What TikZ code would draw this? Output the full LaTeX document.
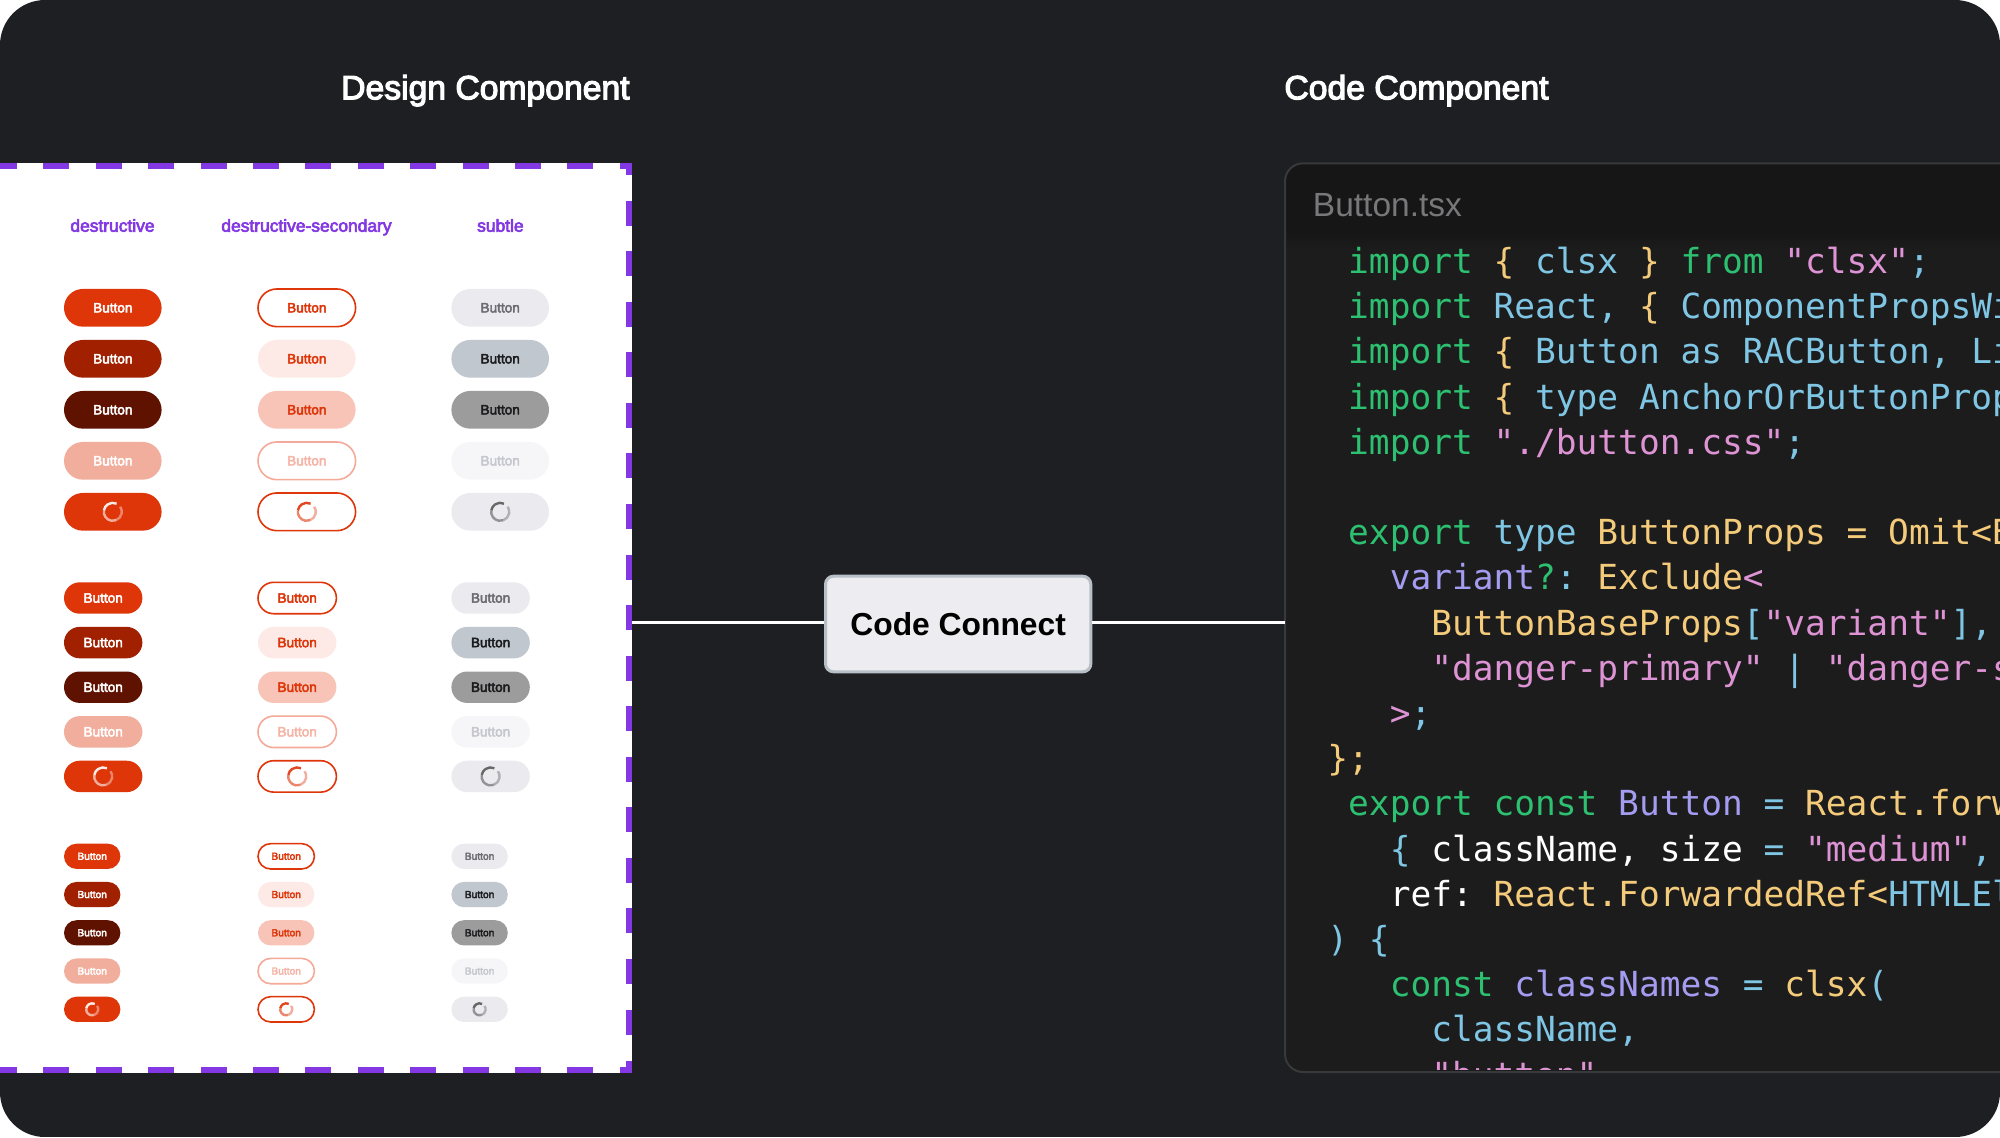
\documentclass[tikz,border=0pt]{standalone}
\usepackage{fontspec}
\setmainfont{Liberation Sans}
\newfontfamily\uifont[FakeBold=3.5]{Liberation Sans}
\newfontfamily\uiboldfont{Liberation Sans Bold}
\newfontfamily\codefont{DejaVu Sans Mono}
\definecolor{bgdark}{HTML}{1E1F23}
\definecolor{dashpurple}{HTML}{8338E3}
\definecolor{codebg}{HTML}{1C1C1D}
\definecolor{codehead}{HTML}{161616}
\definecolor{codeedge}{HTML}{38393B}
\definecolor{fnamegrey}{HTML}{78787A}
\definecolor{ccfill}{HTML}{ECECF1}
\definecolor{ccedge}{HTML}{B9BFC6}
\definecolor{reda}{HTML}{DE3509}
\definecolor{redb}{HTML}{A02000}
\definecolor{redc}{HTML}{5F1200}
\definecolor{redd}{HTML}{F2AE9D}
\definecolor{pinkb}{HTML}{FDEAE6}
\definecolor{pinkc}{HTML}{F7C4B7}
\definecolor{pinkd}{HTML}{F4A999}
\definecolor{pinkt}{HTML}{F5B5A6}
\definecolor{grya}{HTML}{EBEBEF}
\definecolor{gryb}{HTML}{C0C7CF}
\definecolor{gryc}{HTML}{9C9C9C}
\definecolor{gryd}{HTML}{F6F6F8}
\definecolor{grytxa}{HTML}{6C6C72}
\definecolor{grytxb}{HTML}{1C1C1E}
\definecolor{grytxd}{HTML}{C6C6CE}
\definecolor{tokgreen}{HTML}{2CC070}
\definecolor{tokyellow}{HTML}{F4CB7A}
\definecolor{tokblue}{HTML}{7FC6E4}
\definecolor{tokpink}{HTML}{DE94D4}
\definecolor{tokviolet}{HTML}{A49CF0}
\newcommand\kG[1]{\textcolor{tokgreen}{#1}}
\newcommand\kY[1]{\textcolor{tokyellow}{#1}}
\newcommand\kB[1]{\textcolor{tokblue}{#1}}
\newcommand\kP[1]{\textcolor{tokpink}{#1}}
\newcommand\kV[1]{\textcolor{tokviolet}{#1}}
\newcommand\kW[1]{\textcolor{white}{#1}}
\newcommand\fsz[1]{\fontsize{#1pt}{#1pt}\selectfont}
% spinner: centre, radius, colour
\newcommand\spinner[3]{%
  \draw[spinline,#3,opacity=.9] (#1) ++(65:#2) arc[start angle=65,end angle=170,radius=#2];
  \draw[spinline,#3,opacity=.6] (#1) ++(170:#2) arc[start angle=170,end angle=290,radius=#2];
  \draw[spinline,#3,opacity=.4] (#1) ++(290:#2) arc[start angle=290,end angle=395,radius=#2];
}
\tikzset{
  spinline/.style={line width=1.2pt},
  btnbase/.style={rectangle,inner sep=0pt,line width=.8pt},
  btnL/.style={btnbase,font=\uifont\fsz{6.8}},
  btnM/.style={btnbase,font=\uifont\fsz{6.8}},
  btnS/.style={btnbase,font=\uifont\fsz{5.1}},
  btnd1/.style={fill=reda,text=white},
  btnd2/.style={fill=redb,text=white},
  btnd3/.style={fill=redc,text=white},
  btnd4/.style={fill=redd,text=white},
  btnd5/.style={fill=reda},
  btne1/.style={fill=white,draw=reda,text=reda},
  btne2/.style={fill=pinkb,text=reda},
  btne3/.style={fill=pinkc,text=reda},
  btne4/.style={fill=white,draw=pinkd,text=pinkt},
  btne5/.style={fill=white,draw=reda},
  btnu1/.style={fill=grya,text=grytxa},
  btnu2/.style={fill=gryb,text=grytxb},
  btnu3/.style={fill=gryc,text=grytxb},
  btnu4/.style={fill=gryd,text=grytxd},
  btnu5/.style={fill=grya},
  spind/.style={white},
  spine/.style={reda},
  spinu/.style={black!65},
  heading/.style={anchor=base west,inner sep=0pt,text=white,font=\uifont\fsz{16.85}},
  coltitle/.style={anchor=base,inner sep=0pt,text=dashpurple,font=\uifont\fsz{8.7}},
  dashbar/.style={fill=dashpurple},
  codeline/.style={anchor=base west,inner sep=0pt,font=\codefont\fsz{17.25}\frenchspacing,text=white},
  conn/.style={white,line width=1.5pt},
}
\newcommand\cl[3]{\node[codeline] (line#1) at ({1347.8+20.77*(#2)},{273.4+45.2*(#1)}) {#3};}
\begin{document}
\begin{tikzpicture}[x=0.5pt,y=-0.5pt]
\useasboundingbox (0,0) rectangle (2000,1137);
\fill[white] (0,0) rectangle (2000,1137);
\begin{scope}
\clip[rounded corners=22.5pt] (0,0) rectangle (2000,1137);
\fill[bgdark] (0,0) rectangle (2000,1137);

% headings
\node[heading] (hdesign) at (340.8,99.3) {Design Component};
\node[heading] (hcode) at (1284,99.3) {Code Component};

% design panel
\node[rectangle,fill=white,inner sep=0pt,minimum width=316pt,minimum height=455.15pt] (panel) at (316,617.85) {};
\foreach \yy in {162.7,1067}{
  \fill[dashbar] (0,\yy) rectangle (17,\yy+6.3);
  \foreach \k in {0,...,10}{\fill[dashbar] ({43.3+52.4*\k},\yy) rectangle ({69.4+52.4*\k},\yy+6.3);}
  \fill[dashbar] (619.7,\yy) rectangle (632,\yy+6.3);
}
\fill[dashbar] (626,162.7) rectangle (632,175);
\foreach \k in {0,...,16}{\fill[dashbar] (626,{200.7+50.55*\k}) rectangle (632,{225.7+50.55*\k});}
\fill[dashbar] (626,1060.7) rectangle (632,1073);

% column titles
\node[coltitle] (tdest) at (112.5,231.7) {destructive};
\node[coltitle] (tsec) at (306.5,231.7) {destructive-secondary};
\node[coltitle] (tsub) at (500.4,231.7) {subtle};

% buttons
\foreach \sz/\w/\h/\ys/\pitch/\rad in {L/97.6/37.7/307.8/51/4.5pt,M/78.4/31.4/598/44.6/4.5pt,S/56.4/25.3/856.3/38.25/3pt}{
  \foreach \col/\lx in {d/64,e/258,u/451.4}{
    \foreach \r in {1,...,4}{
      \node[btn\sz,btn\col\r,minimum width=\w*0.5pt,minimum height=\h*0.5pt,rounded corners=\h*0.25pt]
        (b\col\sz\r) at ({\lx+\w/2},{\ys+(\r-1)*\pitch}) {Button};
    }
    \node[btn\sz,btn\col5,minimum width=\w*0.5pt,minimum height=\h*0.5pt,rounded corners=\h*0.25pt]
      (b\col\sz5) at ({\lx+\w/2},{\ys+4*\pitch}) {};
    \spinner{b\col\sz5}{\rad}{spin\col}
  }
}

% code panel
\node[rectangle,rounded corners=9pt,fill=codebg,inner sep=0pt,minimum width=377.5pt,minimum height=454.35pt] (code) at (1662.5,617.65) {};
\begin{scope}
\clip[rounded corners=9pt] (1285,163.3) rectangle (2040,1069);
\fill[codehead] (1285,163.3) rectangle (2040,232);
\shade[top color=codehead,bottom color=codebg] (1285,232) rectangle (2040,250);
\node[anchor=base west,inner sep=0pt,text=fnamegrey,font=\fsz{16.75}] (fname) at (1312.5,216) {Button.tsx};
\cl{0}{0}{\kG{import} \kY{\{} \kB{clsx} \kY{\}} \kG{from} \kP{"clsx"}\kB{;}}
\cl{1}{0}{\kG{import} \kB{React,} \kY{\{} \kB{ComponentPropsWi}}
\cl{2}{0}{\kG{import} \kY{\{} \kB{Button as RACButton, Li}}
\cl{3}{0}{\kG{import} \kY{\{} \kB{type AnchorOrButtonProp}}
\cl{4}{0}{\kG{import} \kP{"./button.css"}\kB{;}}
\cl{6}{0}{\kG{export} \kB{type} \kY{ButtonProps = Omit<B}}
\cl{7}{2}{\kV{variant}\kG{?}\kB{:} \kY{Exclude}\kP{<}}
\cl{8}{4}{\kY{ButtonBaseProps}\kB{[}\kP{"variant"}\kB{],}}
\cl{9}{4}{\kP{"danger-primary"} \kB{|} \kP{"danger-s}}
\cl{10}{2}{\kP{>}\kB{;}}
\cl{11}{-1}{\kY{\};}}
\cl{12}{0}{\kG{export const} \kV{Button} \kB{=} \kY{React.forw}}
\cl{13}{2}{\kB{\{} \kW{className, size} \kB{=} \kP{"medium"}\kB{,}}
\cl{14}{2}{\kW{ref:} \kY{React.ForwardedRef<}\kB{HTMLEl}}
\cl{15}{-1}{\kB{) \{}}
\cl{16}{2}{\kG{const} \kV{classNames} \kB{=} \kY{clsx}\kB{(}}
\cl{17}{4}{\kB{className,}}
\cl{18}{4}{\kP{"button"}}
\end{scope}
\draw[codeedge,line width=1pt,rounded corners=9pt] (1285,163.3) rectangle (2040,1072);

% Code Connect
\node[rectangle,rounded corners=4pt,fill=ccfill,draw=ccedge,line width=1.5pt,inner sep=0pt,minimum width=132.65pt,minimum height=47.8pt,font=\uiboldfont\fsz{15.9},text=black] (cc) at (958.15,624) {Code Connect};
\coordinate (wire) at (958,622.7);
\draw[conn] (wire -| panel.east) -- (wire -| cc.west);
\draw[conn] (wire -| cc.east) -- (wire -| code.west);
\end{scope}
\end{tikzpicture}
\end{document}
